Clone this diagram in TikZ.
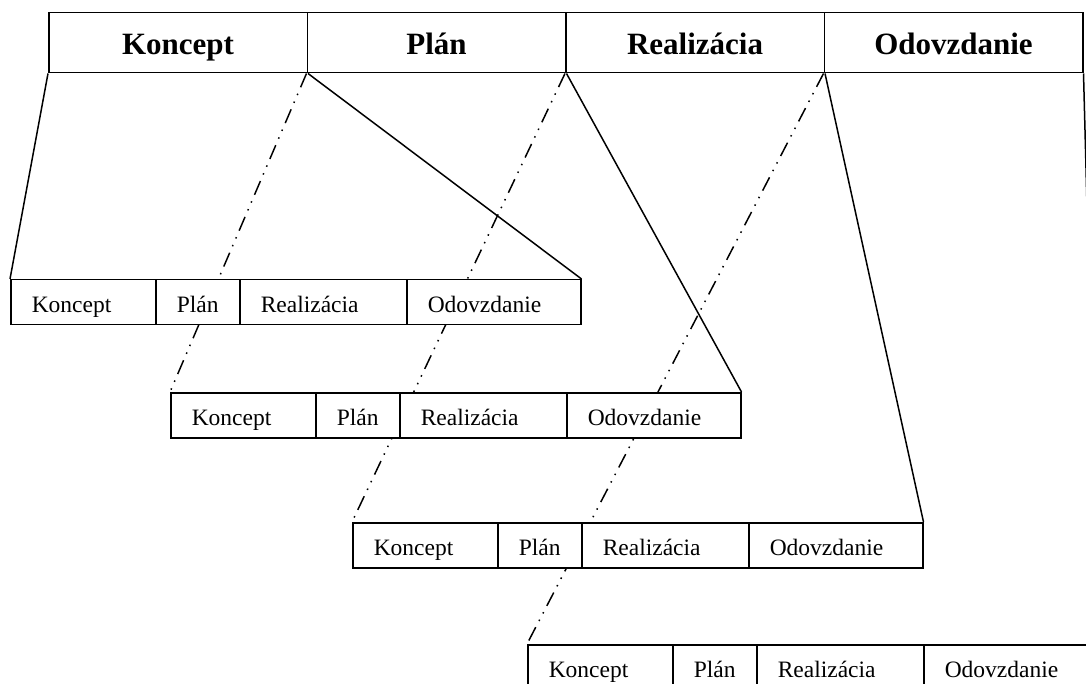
\documentclass[tikz,border=0pt]{standalone}
\usepackage{fontspec}
\setmainfont{Liberation Serif}
\pgfdeclarelayer{background}
\pgfsetlayers{background,main}
\begin{document}
\begin{tikzpicture}[x=1pt,y=-1pt,
  phase/.style={draw, line width=1.5pt, fill=white, anchor=north west,
    minimum width=258.5pt, minimum height=60pt, inner sep=0pt,
    text height=24pt, text depth=0pt,
    font=\fontsize{31}{34}\selectfont\bfseries},
  cell/.style={draw, line width=1.5pt, fill=white, anchor=north west,
    minimum height=45pt, inner xsep=21pt, inner ysep=0pt, align=left,
    text height=20pt, text depth=0pt,
    font=\fontsize{23.5}{26}\selectfont},
  zoomline/.style={line width=1.5pt},
  zoomdash/.style={line width=1.5pt,
    dash pattern=on 15pt off 7pt on 1.5pt off 7pt on 1.5pt off 7pt}]
\useasboundingbox (0,0) rectangle (1086,684);

% top level phases
\node[phase] (t1) at (48,12) {Koncept};
\node[phase] (t2) at (306.5,12) {Plán};
\node[phase] (t3) at (565,12) {Realizácia};
\node[phase] (t4) at (823.5,12) {Odovzdanie};

% nested phase rows
\foreach \r/\x/\y in {1/10/279, 2/170/392, 3/352/522, 4/527/644} {
  \node[cell, text width=103pt] (r\r-a) at (\x,\y) {Koncept};
  \node[cell, text width=42pt]  (r\r-b) at (\x+145,\y) {Plán};
  \node[cell, text width=125pt] (r\r-c) at (\x+229,\y) {Realizácia};
  \node[cell, text width=132pt] (r\r-d) at (\x+396,\y) {Odovzdanie};
}

% expansion lines behind the boxes
\begin{pgfonlayer}{background}
  \draw[zoomline] (t1.south west) -- (r1-a.north west);
  \draw[zoomline] (t1.south east) -- (r1-d.north east);
  \draw[zoomdash] (t2.south west) -- (r2-a.north west);
  \draw[zoomline] (t2.south east) -- (r2-d.north east);
  \draw[zoomdash] (t3.south west) -- (r3-a.north west);
  \draw[zoomline] (t3.south east) -- (r3-d.north east);
  \draw[zoomdash] (t4.south west) -- (r4-a.north west);
  \draw[zoomline] (t4.south east) -- (r4-d.north east);
\end{pgfonlayer}
\end{tikzpicture}
\end{document}
